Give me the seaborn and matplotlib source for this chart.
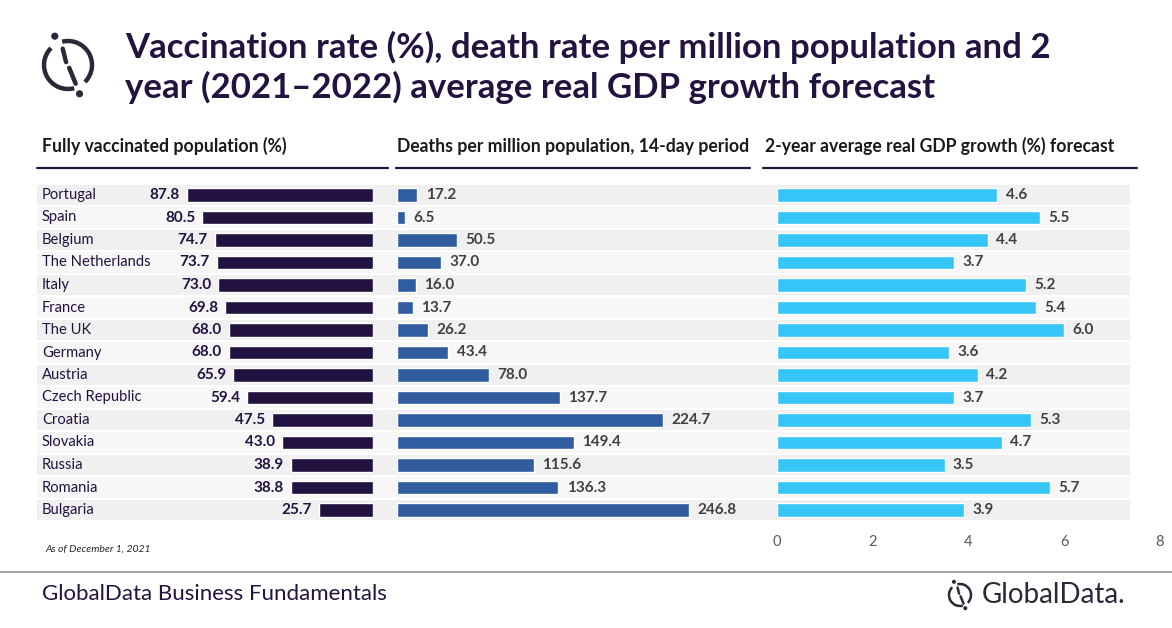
import matplotlib
matplotlib.use("Agg")
import matplotlib.pyplot as plt
import seaborn as sns
import numpy as np
from matplotlib.patches import Arc, Circle

# --- data ---
countries = ["Portugal", "Spain", "Belgium", "The Netherlands", "Italy", "France",
             "The UK", "Germany", "Austria", "Czech Republic", "Croatia", "Slovakia",
             "Russia", "Romania", "Bulgaria"]
vaccinated = [87.8, 80.5, 74.7, 73.7, 73.0, 69.8, 68.0, 68.0, 65.9, 59.4,
              47.5, 43.0, 38.9, 38.8, 25.7]
deaths = [17.2, 6.5, 50.5, 37.0, 16.0, 13.7, 26.2, 43.4, 78.0, 137.7,
          224.7, 149.4, 115.6, 136.3, 246.8]
gdp_growth = [4.6, 5.5, 4.4, 3.7, 5.2, 5.4, 6.0, 3.6, 4.2, 3.7,
              5.3, 4.7, 3.5, 5.7, 3.9]
gdp_ticks = [0, 2, 4, 6, 8]

title_lines = ["Vaccination rate (%), death rate per million population and 2",
               "year (2021\u20132022) average real GDP growth forecast"]
headers = ["Fully vaccinated population (%)",
           "Deaths per million population, 14-day period",
           "2-year average real GDP growth (%) forecast"]

DARK = "#22133f"
GREY_TXT = "#404040"
C_VAC = "#221240"
C_DEATH = "#2f5d9f"
C_GDP = "#36c5f7"

sns.set_theme(style="white")
plt.rcParams["font.family"] = ["Lato", "DejaVu Sans"]

W, H = 1172, 628
fig = plt.figure(figsize=(W / 100, H / 100), dpi=100)


def px_axes(x0, y0, x1, y1, **kw):
    # pixel box (top-left origin) -> figure axes
    return fig.add_axes([x0 / W, 1 - y1 / H, (x1 - x0) / W, (y1 - y0) / H], **kw)


n = len(countries)
ROW_TOP, ROW_BOT = 183.75, 521.25

# background stripes
bg = px_axes(37, ROW_TOP, 1130, ROW_BOT)
for i in range(n):
    bg.axhspan(i - 0.45, i + 0.45, color="#f0f0f0" if i % 2 == 0 else "#f7f7f7", lw=0)
bg.set_xlim(0, 1)
bg.set_ylim(n - 0.5, -0.5)
bg.axis("off")

bar_w = 0.62

# left panel: vaccination (bars grow leftwards)
ax1 = px_axes(161, ROW_TOP, 373, ROW_BOT)
sns.barplot(x=vaccinated, y=countries, ax=ax1, color=C_VAC, width=bar_w,
            orient="h", saturation=1)
ax1.set_xlim(100, 0)
for i, v in enumerate(vaccinated):
    ax1.annotate(f"{v:.1f}", (v, i), xytext=(-5, 0), textcoords="offset points",
                 ha="right", va="center", fontsize=11, fontweight="bold", color=DARK)
    ax1.annotate(countries[i], (0, i), xycoords=("figure fraction", "data"),
                 xytext=(42 * 0.72, 0), textcoords="offset points",
                 ha="left", va="center", fontsize=10.6, color=DARK)

# middle panel: deaths
ax2 = px_axes(397, ROW_TOP, 752, ROW_BOT)
sns.barplot(x=deaths, y=countries, ax=ax2, color=C_DEATH, width=bar_w,
            orient="h", saturation=1)
ax2.set_xlim(0, 300)
for i, v in enumerate(deaths):
    ax2.annotate(f"{v:.1f}", (v, i), xytext=(6, 0), textcoords="offset points",
                 ha="left", va="center", fontsize=11, fontweight="bold", color=GREY_TXT)

# right panel: GDP growth
ax3 = px_axes(777, ROW_TOP, 1160, ROW_BOT)
sns.barplot(x=gdp_growth, y=countries, ax=ax3, color=C_GDP, width=bar_w,
            orient="h", saturation=1)
ax3.set_xlim(0, 8)
for i, v in enumerate(gdp_growth):
    ax3.annotate(f"{v:.1f}", (v, i), xytext=(6, 0), textcoords="offset points",
                 ha="left", va="center", fontsize=11, fontweight="bold", color=GREY_TXT)

for ax in (ax1, ax2, ax3):
    ax.set_ylim(n - 0.5, -0.5)
    ax.set_facecolor("none")
    ax.set_ylabel("")
    ax.set_xlabel("")
    ax.set_yticks([])
    sns.despine(ax=ax, left=True, bottom=True)
ax1.set_xticks([])
ax2.set_xticks([])
ax3.set_xticks(gdp_ticks)
ax3.set_xticklabels([str(t) for t in gdp_ticks], color="#595959", fontsize=10.5)
ax3.tick_params(axis="x", length=0, pad=10)

# headers + underline rules
for hx, (x0, x1), txt in zip([42, 397, 765], [(37, 388), (396, 750), (763, 1137)], headers):
    fig.text(hx / W, 1 - 146 / H, txt, ha="left", va="center", fontsize=12.7,
             fontweight="bold", color="#1a1a1a")
    fig.add_artist(plt.Line2D([x0 / W, x1 / W], [1 - 168 / H] * 2, color=DARK, lw=1.6))

# title
for ty, line in zip([47, 87], title_lines):
    fig.text(125 / W, 1 - ty / H, line, ha="left", va="center", fontsize=25,
             fontweight="bold", color=DARK)


def draw_logo(cx, cy, r, lw, color):
    ax = px_axes(cx - r * 1.6, cy - r * 1.6, cx + r * 1.6, cy + r * 1.6)
    ax.set_xlim(-1.6, 1.6)
    ax.set_ylim(-1.6, 1.6)
    ax.set_aspect("equal")
    ax.axis("off")
    ax.add_patch(Arc((0, 0), 2, 2, theta1=-45, theta2=104, lw=lw, color=color))
    ax.add_patch(Arc((0, 0), 2, 2, theta1=135, theta2=285, lw=lw, color=color))
    ax.plot([-0.22, -0.08], [0.68, 0.12], color=color, lw=lw, solid_capstyle="round")
    ax.plot([0.05, 0.32], [-0.12, -0.78], color=color, lw=lw, solid_capstyle="round")
    ax.add_patch(Circle((-0.55, 1.2), 0.12, color=color))
    ax.add_patch(Circle((0.48, -1.2), 0.12, color=color))


draw_logo(68, 65, 24, 3.2, "#2b2838")

# footer
fig.text(45 / W, 1 - 549 / H, "As of December 1, 2021", ha="left", va="center",
         fontsize=7.5, style="italic", color="#262626")
fig.add_artist(plt.Line2D([0, 1], [1 - 572 / H] * 2, color="#a6a6a6", lw=1.5))
fig.text(42 / W, 1 - 594 / H, "GlobalData Business Fundamentals", ha="left", va="center",
         fontsize=16, color=DARK)
draw_logo(960, 595, 11, 1.8, "#2b2838")
fig.text(982 / W, 1 - 595 / H, "GlobalData.", ha="left", va="center",
         fontsize=20, color="#2b2838")

fig.savefig("out.png", dpi=100)
